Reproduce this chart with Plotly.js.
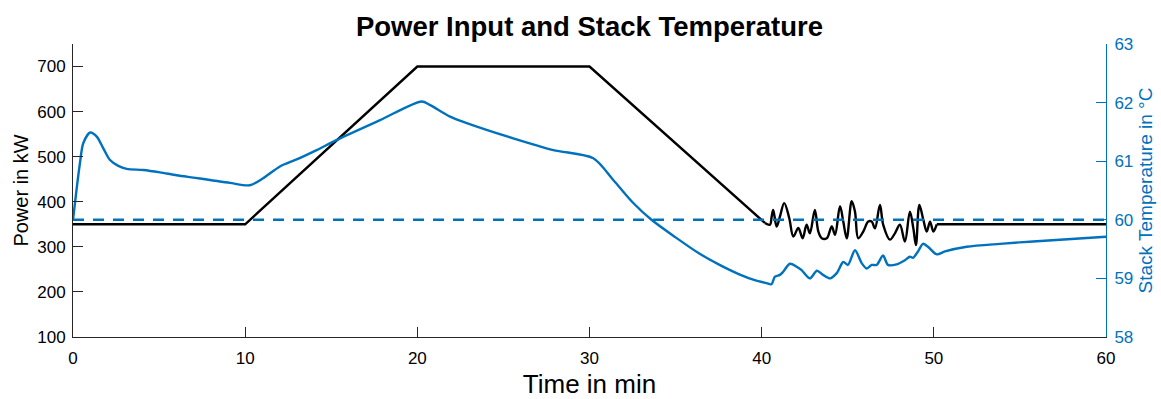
<!DOCTYPE html>
<html>
<head>
<meta charset="utf-8">
<script src="https://cdn.plot.ly/plotly-3.0.1.min.js"></script>
<style>
  html, body { margin: 0; padding: 0; background: #fff; }
  #chart { width: 1161px; height: 399px; }
</style>
</head>
<body>
<div id="chart"></div>
<script>
// Power profile: constant, ramp up, hold, ramp down (minutes, kW)
const rampTime = [0, 10, 20, 30, 40.19];
const rampPower = [350, 350, 700, 700, 353];

// Fluctuating load phase
const fluctTime = [40.19, 40.48, 40.58, 40.67, 40.87, 41.06, 41.31, 41.60, 41.84, 42.13,
  42.38, 42.61, 42.80, 43.09, 43.29, 43.49, 43.78, 44.07, 44.26, 44.55,
  44.74, 44.94, 45.23, 45.42, 45.61, 45.90, 46.19, 46.39, 46.58, 46.87,
  47.06, 47.45, 47.74, 48.03, 48.32, 48.61, 48.81, 48.96, 49.16, 49.39,
  49.59, 49.78, 49.97, 50.17];
const fluctPower = [353, 349, 367, 382, 345, 367, 397, 364, 323, 342,
  319, 349, 330, 382, 334, 319, 319, 345, 327, 390,
  356, 319, 401, 378, 319, 334, 356, 356, 341, 393,
  349, 316, 330, 349, 312, 378, 341, 304, 393, 360,
  334, 356, 334, 350];

// Constant load after the fluctuations
const tailTime = [50.17, 60];
const tailPower = [350, 350];

// Stack temperature (minutes, °C)
const tempTime = [0, 0.2, 0.4, 0.6, 1.0, 1.38, 1.76, 2.15, 2.63, 3.12,
  4.08, 5.05, 6.02, 6.99, 7.96, 9.12, 10.28, 11.05, 12.02, 12.99,
  14.15, 15.3, 17.83, 20.25, 20.73, 21.9, 22.87, 25.57, 27.9, 30.22,
  31.38, 32.5, 33.6, 35.0, 36.4, 37.5, 38.7, 39.6, 40.28, 40.57, 40.77,
  41.06, 41.24, 41.64, 42.03, 42.32, 42.80, 43.21, 43.56, 43.97, 44.36,
  44.74, 45.01, 45.42, 45.81, 46.10, 46.39, 46.68, 47.05, 47.34, 47.84,
  48.32, 48.61, 48.79, 49.08, 49.37, 49.66, 50.17, 50.65, 51.91, 53.84,
  55.76, 60];
const tempC = [60.0, 60.5, 60.96, 61.31, 61.49, 61.42, 61.22, 61.02, 60.92, 60.87,
  60.85, 60.81, 60.76, 60.72, 60.68, 60.63, 60.59, 60.71, 60.91, 61.03,
  61.19, 61.36, 61.70, 62.02, 61.96, 61.76, 61.65, 61.39, 61.19, 61.05,
  60.68, 60.3, 60.0, 59.70, 59.42, 59.24, 59.07, 58.97, 58.92, 58.90, 59.03,
  59.06, 59.11, 59.25, 59.20, 59.14, 59.00, 59.13, 59.06, 59.00, 59.09,
  59.28, 59.23, 59.48, 59.26, 59.17, 59.23, 59.23, 59.39, 59.23, 59.24,
  59.31, 59.37, 59.35, 59.46, 59.59, 59.54, 59.41, 59.46, 59.54, 59.59,
  59.63, 59.71];

// Temperature setpoint
const setTime = [0, 60];
const setTemp = [60, 60];

// Axis ticks
const xTicks = [0, 10, 20, 30, 40, 50, 60];
const powerTicks = [100, 200, 300, 400, 500, 600, 700];
const tempTicks = [58, 59, 60, 61, 62, 63];

const BLUE = '#0072BD';
const DARK = '#262626';
const FONT = 'Liberation Sans, Arial, Helvetica, sans-serif';
const LW = 2.4;

const traces = [
  { x: rampTime, y: rampPower, yaxis: 'y', mode: 'lines',
    line: { color: '#000', width: LW }, hoverinfo: 'skip' },
  { x: fluctTime, y: fluctPower, yaxis: 'y', mode: 'lines',
    line: { color: '#000', width: LW, shape: 'spline', smoothing: 1 }, hoverinfo: 'skip' },
  { x: tailTime, y: tailPower, yaxis: 'y', mode: 'lines',
    line: { color: '#000', width: LW }, hoverinfo: 'skip' },
  { x: tempTime, y: tempC, yaxis: 'y2', mode: 'lines',
    line: { color: BLUE, width: LW, shape: 'spline', smoothing: 0.8 }, hoverinfo: 'skip' },
  { x: setTime, y: setTemp, yaxis: 'y2', mode: 'lines',
    line: { color: BLUE, width: LW, dash: '11px,9px' }, hoverinfo: 'skip' }
];

const layout = {
  width: 1161, height: 399,
  margin: { l: 73, r: 55, t: 44, b: 62 },
  paper_bgcolor: '#fff', plot_bgcolor: '#fff',
  showlegend: false,
  font: { family: FONT, size: 16, color: DARK },
  title: {
    text: '<b>Power Input and Stack Temperature</b>',
    font: { family: FONT, size: 27.5, color: '#000' },
    x: 0.5, xanchor: 'center', xref: 'paper',
    y: 1 - 26 / 399, yref: 'container', yanchor: 'middle'
  },
  xaxis: {
    range: [0, 60], tickvals: xTicks, ticktext: xTicks.map(String),
    ticks: 'inside', ticklen: 10, tickwidth: 1, tickcolor: DARK,
    showline: true, linecolor: DARK, linewidth: 1,
    showgrid: false, zeroline: false, ticklabelstandoff: 6,
    tickfont: { family: FONT, size: 17, color: '#000' },
    title: { text: 'Time in min', font: { family: FONT, size: 26, color: '#000' }, standoff: 12 }
  },
  yaxis: {
    range: [100, 750], tickvals: powerTicks, ticktext: powerTicks.map(String),
    ticks: 'inside', ticklen: 10, tickwidth: 1, tickcolor: DARK,
    showline: true, linecolor: DARK, linewidth: 1,
    showgrid: false, zeroline: false, ticklabelstandoff: 3,
    tickfont: { family: FONT, size: 17, color: '#000' },
    title: { text: 'Power in kW', font: { family: FONT, size: 20, color: '#000' }, standoff: 3 }
  },
  yaxis2: {
    overlaying: 'y', side: 'right',
    range: [58, 63], tickvals: tempTicks, ticktext: tempTicks.map(String),
    ticks: 'inside', ticklen: 10, tickwidth: 1, tickcolor: BLUE,
    showline: true, linecolor: BLUE, linewidth: 1,
    showgrid: false, zeroline: false, ticklabelstandoff: 4,
    tickfont: { family: FONT, size: 17, color: BLUE },
    title: { text: 'Stack Temperature in °C', font: { family: FONT, size: 19, color: BLUE }, standoff: 6 }
  }
};

Plotly.newPlot('chart', traces, layout, { displayModeBar: false, staticPlot: true });
</script>
</body>
</html>
